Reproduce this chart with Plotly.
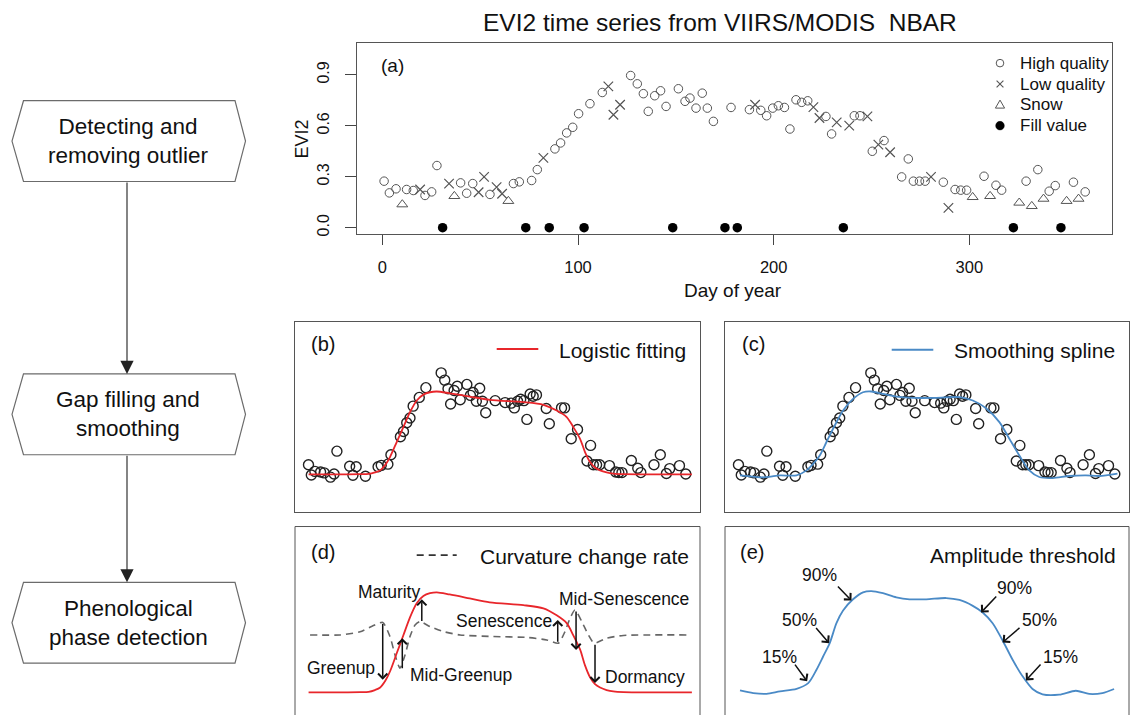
import plotly.graph_objects as go

W, H = 1135, 717
FONT = "Arial, Liberation Sans, Helvetica, sans-serif"

# ---------------- Panel (a): EVI2 observations by quality flag ----------------
HQ_DAY = [0.9, 3.6, 7.0, 12.4, 15.8, 21.8, 25.2, 27.9, 40.0, 43.1, 46.2, 55.0,
          67.0, 70.0, 76.3, 79.2, 88.2, 91.1, 94.2, 97.3, 100.3, 106.1, 112.4,
          126.9, 130.3, 133.4, 135.9, 139.2, 142.2, 145.0, 151.3, 154.7, 157.2,
          160.3, 163.5, 166.1, 169.2, 178.2, 187.6, 193.4, 196.4, 199.5, 202.4,
          205.5, 208.3, 211.4, 214.3, 217.4, 226.7, 229.6, 241.2, 244.1, 250.4,
          256.4, 265.4, 268.8, 271.4, 274.5, 277.4, 286.7, 292.7, 295.6, 298.6,
          307.5, 313.6, 316.5, 329.0, 335.0, 340.8, 343.9, 353.2, 359.2]
HQ_EVI2 = [0.274, 0.205, 0.229, 0.225, 0.219, 0.190, 0.211, 0.366, 0.264, 0.203,
           0.260, 0.196, 0.260, 0.270, 0.278, 0.342, 0.464, 0.499, 0.558, 0.591,
           0.671, 0.730, 0.796, 0.896, 0.847, 0.789, 0.685, 0.777, 0.806, 0.714,
           0.818, 0.744, 0.763, 0.704, 0.792, 0.704, 0.626, 0.708, 0.695, 0.691,
           0.659, 0.704, 0.718, 0.708, 0.581, 0.753, 0.738, 0.747, 0.655, 0.552,
           0.659, 0.659, 0.450, 0.513, 0.299, 0.405, 0.274, 0.274, 0.274, 0.268,
           0.225, 0.221, 0.221, 0.303, 0.250, 0.221, 0.274, 0.342, 0.215, 0.248,
           0.268, 0.211]

LQ_DAY = [19.3, 34.1, 49.2, 52.0, 58.4, 61.2, 82.3, 115.5, 118.1, 121.5, 190.5,
          220.3, 223.4, 232.2, 238.6, 247.9, 253.5, 259.5, 280.4, 289.3]
LQ_EVI2 = [0.225, 0.260, 0.209, 0.299, 0.239, 0.200, 0.411, 0.832, 0.665, 0.724,
           0.724, 0.710, 0.646, 0.620, 0.601, 0.655, 0.489, 0.444, 0.299, 0.117]

SNOW_DAY = [10.2, 36.8, 64.4, 301.7, 310.6, 325.5, 331.9, 337.9, 349.7, 355.8]
SNOW_EVI2 = [0.137, 0.186, 0.157, 0.180, 0.186, 0.147, 0.127, 0.170, 0.157, 0.170]

FILL_DAY = [30.8, 73.3, 85.3, 103.1, 148.4, 175.1, 181.4, 235.6, 322.5, 346.8]
FILL_EVI2 = [0.0, 0.0, 0.0, 0.0, 0.0, 0.0, 0.0, 0.0, 0.0, 0.0]

X_TICKS = [0, 100, 200, 300]
Y_TICKS = [0.0, 0.3, 0.6, 0.9]
Y_TICK_TEXT = ["0.0", "0.3", "0.6", "0.9"]
LEGEND_LABELS = ["High quality", "Low quality", "Snow", "Fill value"]

# ---------------- Fitted curves ----------------
LOGI_DAY = [1, 30, 50, 58, 64, 69, 74, 78.3, 84.7, 91, 97.3, 103.7, 110, 116.3,
            122.7, 135, 154, 173, 205, 224, 236.6, 246.1, 252.4, 258.8, 263.5,
            268.3, 273, 277.8, 284, 290.4, 300, 330, 365]
LOGI_EVI2 = [0.209, 0.209, 0.210, 0.212, 0.222, 0.236, 0.275, 0.326, 0.428, 0.529,
             0.630, 0.709, 0.749, 0.765, 0.770, 0.758, 0.736, 0.714, 0.698, 0.680,
             0.641, 0.597, 0.529, 0.450, 0.360, 0.293, 0.255, 0.236, 0.222, 0.214,
             0.210, 0.209, 0.209]

SPL_DAY = [2.4, 12, 21.4, 30, 40.4, 56.2, 65.7, 72, 78.3, 84.7, 92.6, 100.5, 110,
           119.5, 127.4, 138.5, 151.2, 167, 189.2, 211.3, 224, 236.6, 249.3, 258.8,
           268.3, 277.8, 287.3, 300, 315.8, 331.6, 344.3, 361.7]
SPL_EVI2 = [0.202, 0.195, 0.189, 0.192, 0.202, 0.202, 0.236, 0.280, 0.337, 0.428,
            0.540, 0.641, 0.720, 0.765, 0.770, 0.754, 0.736, 0.727, 0.727, 0.732,
            0.709, 0.657, 0.563, 0.450, 0.337, 0.236, 0.191, 0.184, 0.198, 0.202,
            0.198, 0.214]

# curvature change rate (scaled to the EVI2 axis of panel d)
CCR_DAY = [2.4, 30.9, 49.9, 61.3, 71.4, 78.3, 83.1, 87.8, 92.6, 97.3, 102.1, 106.8,
           116.3, 129, 144.8, 176.4, 208.2, 227.2, 238.2, 244.5, 249.3, 254, 260.4,
           266.7, 272.1, 284.1, 299.9, 360.1]
CCR_VAL = [0.531, 0.531, 0.549, 0.580, 0.601, 0.522, 0.419, 0.345, 0.419, 0.522,
           0.587, 0.606, 0.578, 0.550, 0.531, 0.522, 0.517, 0.503, 0.485, 0.550,
           0.625, 0.671, 0.606, 0.531, 0.485, 0.513, 0.528, 0.531]

# smoothed curve used for amplitude thresholds (panel e)
AMP_DAY = [2.4, 15, 27.7, 40.4, 56.2, 67.3, 75.2, 81.5, 87.8, 94.2, 100.5, 110,
           119.5, 127.4, 138.5, 151.2, 163.8, 179.7, 198.7, 211.3, 224, 233.4, 242.9,
           252.4, 261.9, 271.4, 280.9, 290.4, 306.3, 322.1, 334.8, 347.4, 358.5]
AMP_EVI2 = [0.220, 0.205, 0.201, 0.215, 0.229, 0.261, 0.336, 0.410, 0.485, 0.597,
            0.668, 0.731, 0.770, 0.777, 0.765, 0.742, 0.731, 0.731, 0.738, 0.727,
            0.694, 0.657, 0.597, 0.500, 0.392, 0.299, 0.228, 0.198, 0.196, 0.218,
            0.200, 0.205, 0.228]

# phenological transition markers in panel (d): (label, arrow day, tail, head)
D_ARROWS = [
    ("Greenup", 71.4, 0.601, 0.280),
    ("Mid-Greenup", 90.0, 0.336, 0.513),
    ("Maturity", 108.5, 0.601, 0.731),
    ("Senescence", 237.6, 0.485, 0.615),
    ("Mid-Senescence", 255.0, 0.671, 0.447),
    ("Dormancy", 273.0, 0.485, 0.261),
]
D_LABELS = [
    ("Greenup", 65.8, 0.345, "right"),
    ("Mid-Greenup", 95.4, 0.308, "left"),
    ("Maturity", 108.5, 0.774, "right"),
    ("Senescence", 233.6, 0.610, "right"),
    ("Mid-Senescence", 300.8, 0.733, "center"),
    ("Dormancy", 280.9, 0.293, "left"),
]

# amplitude thresholds in panel (e): (label, text x, text y, tail x, tail y, head x, head y)
E_ARROWS = [
    ("90%", 78.3, 0.867, 94.2, 0.811, 108.5, 0.724),
    ("50%", 59.4, 0.615, 73.6, 0.578, 87.2, 0.485),
    ("15%", 40.4, 0.410, 53.7, 0.373, 66.3, 0.271),
    ("90%", 263.5, 0.793, 247.7, 0.755, 231.9, 0.657),
    ("50%", 287.3, 0.615, 269.9, 0.578, 252.4, 0.489),
    ("15%", 307.9, 0.410, 289.8, 0.373, 274.6, 0.276),
]

FLOW_STEPS = ["Detecting and<br>removing outlier",
              "Gap filling and<br>smoothing",
              "Phenological<br>phase detection"]


def fx(p):
    return p / W


def fy(p):
    return 1 - p / H


RED = "#e8262b"
BLUE = "#4a8ac6"
GREY = "#555555"

fig = go.Figure()

# panel (a)
fig.add_trace(go.Scatter(x=HQ_DAY, y=HQ_EVI2, mode="markers", name="High quality",
                         marker=dict(symbol="circle-open", size=8.5, color=GREY, line=dict(width=1)),
                         xaxis="x", yaxis="y"))
fig.add_trace(go.Scatter(x=LQ_DAY, y=LQ_EVI2, mode="markers", name="Low quality",
                         marker=dict(symbol="x-thin-open", size=9.5, color=GREY, line=dict(width=1.2)),
                         xaxis="x", yaxis="y"))
fig.add_trace(go.Scatter(x=SNOW_DAY, y=SNOW_EVI2, mode="markers", name="Snow",
                         marker=dict(symbol="triangle-up-open", size=9.5, color=GREY, line=dict(width=1)),
                         xaxis="x", yaxis="y"))
fig.add_trace(go.Scatter(x=FILL_DAY, y=FILL_EVI2, mode="markers", name="Fill value",
                         marker=dict(symbol="circle", size=9.5, color="black"),
                         xaxis="x", yaxis="y"))

# panels (b) and (c): high quality points with fitted curves
for xa, ya, cx, cy, col in [("x2", "y2", LOGI_DAY, LOGI_EVI2, RED),
                            ("x3", "y3", SPL_DAY, SPL_EVI2, BLUE)]:
    fig.add_trace(go.Scatter(x=HQ_DAY, y=HQ_EVI2, mode="markers",
                             marker=dict(symbol="circle-open", size=10, color="#222",
                                         line=dict(width=1.4)),
                             xaxis=xa, yaxis=ya))
    fig.add_trace(go.Scatter(x=cx, y=cy, mode="lines",
                             line=dict(color=col, width=1.8, shape="spline", smoothing=0.8),
                             xaxis=xa, yaxis=ya))

# panel (d)
fig.add_trace(go.Scatter(x=CCR_DAY, y=CCR_VAL, mode="lines",
                         line=dict(color="#666", width=1.6, dash="7px,5px", shape="spline", smoothing=0.6),
                         xaxis="x4", yaxis="y4"))
fig.add_trace(go.Scatter(x=LOGI_DAY, y=LOGI_EVI2, mode="lines",
                         line=dict(color=RED, width=1.8, shape="spline", smoothing=0.8),
                         xaxis="x4", yaxis="y4"))

# panel (e)
fig.add_trace(go.Scatter(x=AMP_DAY, y=AMP_EVI2, mode="lines",
                         line=dict(color=BLUE, width=1.8, shape="spline", smoothing=0.8),
                         xaxis="x5", yaxis="y5"))

box = dict(showline=True, mirror=True, linecolor="#555", linewidth=1)
hidden = dict(showgrid=False, zeroline=False, showticklabels=False, ticks="")
X_RANGE = [-11.9, 372.7]

layout = dict(
    width=W, height=H,
    margin=dict(l=0, r=0, t=0, b=0),
    paper_bgcolor="white", plot_bgcolor="white",
    font=dict(family=FONT, color="#111"),
    showlegend=False,
    xaxis=dict(domain=[fx(357), fx(1112)], range=[-12.95, 372.9], anchor="y",
               tickvals=X_TICKS, ticks="outside", ticklen=10, tickwidth=1, tickcolor="#444",
               tickfont=dict(size=16.5, color="#111"), ticklabelstandoff=8,
               showgrid=False, zeroline=False, **box),
    yaxis=dict(domain=[fy(235), fy(43)], range=[-0.039, 1.088], anchor="x",
               tickvals=Y_TICKS, ticktext=Y_TICK_TEXT, tickangle=-90,
               ticks="outside", ticklen=11, tickwidth=1, tickcolor="#444",
               tickfont=dict(size=16, color="#111"), ticklabelstandoff=10,
               showgrid=False, zeroline=False, **box),
    xaxis2=dict(domain=[fx(295), fx(700)], range=X_RANGE, anchor="y2", **hidden, **box),
    yaxis2=dict(domain=[fy(513), fy(323)], range=[-0.043, 1.240], anchor="x2", **hidden, **box),
    xaxis3=dict(domain=[fx(725), fx(1129)], range=X_RANGE, anchor="y3", **hidden, **box),
    yaxis3=dict(domain=[fy(513), fy(323)], range=[-0.043, 1.240], anchor="x3", **hidden, **box),
    xaxis4=dict(domain=[fx(295), fx(700)], range=X_RANGE, anchor="y4", **hidden),
    yaxis4=dict(domain=[0, fy(528)], range=[0.082, 1.139], anchor="x4", **hidden),
    xaxis5=dict(domain=[fx(725), fx(1129)], range=X_RANGE, anchor="y5", **hidden),
    yaxis5=dict(domain=[0, fy(528)], range=[0.082, 1.139], anchor="x5", **hidden),
)
fig.update_layout(**layout)

shapes = []
# open-bottom frames of panels (d) and (e)
for n in ("4", "5"):
    for x0, y0, x1, y1 in [(0, 0, 0, 1), (0, 1, 1, 1), (1, 1, 1, 0)]:
        shapes.append(dict(type="line", xref=f"x{n} domain", yref=f"y{n} domain",
                           x0=x0, y0=y0, x1=x1, y1=y1, line=dict(color="#555", width=1)))

# legend keys of panels (b), (c), (d)
shapes.append(dict(type="line", xref="paper", yref="paper", x0=fx(496.7), x1=fx(538.3),
                   y0=fy(350), y1=fy(350), line=dict(color=RED, width=1.8)))
shapes.append(dict(type="line", xref="paper", yref="paper", x0=fx(891.7), x1=fx(933.3),
                   y0=fy(350.7), y1=fy(350.7), line=dict(color=BLUE, width=2)))
shapes.append(dict(type="line", xref="paper", yref="paper", x0=fx(416.7), x1=fx(456.7),
                   y0=fy(556.7), y1=fy(556.7), line=dict(color="#333", width=1.6, dash="7px,5px")))

# legend keys of panel (a)
KX = 1000
ROWS = [63.3, 84.3, 105.0, 126.0]
r = 3.8
shapes.append(dict(type="circle", xref="paper", yref="paper",
                   x0=fx(KX - r), x1=fx(KX + r), y0=fy(ROWS[0] + r), y1=fy(ROWS[0] - r),
                   line=dict(color=GREY, width=1)))
c = 3.4
for sx in (-1, 1):
    shapes.append(dict(type="line", xref="paper", yref="paper",
                       x0=fx(KX - c), x1=fx(KX + c), y0=fy(ROWS[1] - sx * c), y1=fy(ROWS[1] + sx * c),
                       line=dict(color=GREY, width=1.1)))
tri = [(KX, ROWS[2] - 4.6), (KX + 4.6, ROWS[2] + 3.4), (KX - 4.6, ROWS[2] + 3.4)]
shapes.append(dict(type="path", xref="paper", yref="paper",
                   path="M " + " L ".join(f"{fx(a):.5f},{fy(b):.5f}" for a, b in tri) + " Z",
                   line=dict(color=GREY, width=1)))
r2 = 4.3
shapes.append(dict(type="circle", xref="paper", yref="paper",
                   x0=fx(KX - r2), x1=fx(KX + r2), y0=fy(ROWS[3] + r2), y1=fy(ROWS[3] - r2),
                   line=dict(color="black", width=0.5), fillcolor="black"))

# flowchart boxes (hexagons)
BOX_Y = [(101, 182), (375, 456), (584, 665)]
XL, XL2, XR2, XR = 12, 23.5, 235, 245.5
for top, bot in BOX_Y:
    mid = (top + bot) / 2
    pts = [(XL, mid), (XL2, top), (XR2, top), (XR, mid), (XR2, bot), (XL2, bot)]
    path = "M " + " L ".join(f"{fx(a):.5f},{fy(b):.5f}" for a, b in pts) + " Z"
    shapes.append(dict(type="path", xref="paper", yref="paper", path=path,
                       line=dict(color="#6b6b6b", width=1.2), fillcolor="white"))

fig.update_layout(shapes=shapes)

ann = []


def text(x, y, s, size, xanchor="center", yanchor="middle", xref="paper", yref="paper", **kw):
    ann.append(dict(x=x, y=y, xref=xref, yref=yref, text=s, showarrow=False,
                    xanchor=xanchor, yanchor=yanchor,
                    font=dict(size=size, color="#111", family=FONT), **kw))


# title and axis titles of panel (a)
text(fx(719.5), fy(23), "EVI2 time series from VIIRS/MODIS\u00a0 NBAR", 24.5)
text(fx(733), fy(291), "Day of year", 19)
text(fx(302), fy(140), "EVI2", 18, textangle=-90)

# legend of panel (a)
for label, yy in zip(LEGEND_LABELS, ROWS):
    text(fx(1018), fy(yy), label, 17, xanchor="left")

# panel tags
text(fx(392), fy(65.5), "(a)", 19)
text(fx(323.3), fy(345), "(b)", 20)
text(fx(753.3), fy(345), "(c)", 20)
text(fx(323.3), fy(553.3), "(d)", 20)
text(fx(751.7), fy(553.3), "(e)", 20)

# panel legends
text(fx(556.7), fy(351), "Logistic fitting", 21, xanchor="left")
text(fx(951.7), fy(351.7), "Smoothing spline", 21, xanchor="left")
text(fx(478.3), fy(558), "Curvature change rate", 21, xanchor="left")
text(fx(1118.3), fy(556.7), "Amplitude threshold", 21, xanchor="right")

# panel (d) transition labels and arrows
for label, x, y, anchor in D_LABELS:
    text(x, y, label, 17.5, xanchor=anchor, xref="x4", yref="y4")
for label, x, tail, head in D_ARROWS:
    ann.append(dict(x=x, y=head, ax=x, ay=tail, xref="x4", yref="y4", axref="x4", ayref="y4",
                    text="", showarrow=True, arrowhead=4, arrowsize=1.2, arrowwidth=1.5,
                    arrowcolor="#111", standoff=0, startstandoff=0))

# panel (e) threshold labels and arrows
for label, tx, ty, ax_, ay_, hx, hy in E_ARROWS:
    text(tx, ty, label, 17.5, xref="x5", yref="y5")
    ann.append(dict(x=hx, y=hy, ax=ax_, ay=ay_, xref="x5", yref="y5", axref="x5", ayref="y5",
                    text="", showarrow=True, arrowhead=4, arrowsize=1.2, arrowwidth=1.5,
                    arrowcolor="#111", standoff=0, startstandoff=0))

# flowchart text and connecting arrows
for (top, bot), s in zip(BOX_Y, FLOW_STEPS):
    text(fx(128), fy((top + bot) / 2), s, 22.5)
for (t0, b0), (t1, b1) in zip(BOX_Y[:-1], BOX_Y[1:]):
    ann.append(dict(x=fx(127), y=fy(t1), xref="paper", yref="paper", ax=0, ay=-(t1 - b0),
                    text="", showarrow=True, arrowhead=2, arrowsize=2.4, arrowwidth=1.1,
                    arrowcolor="#222", standoff=0))

fig.update_layout(annotations=ann)

fig.write_html("out.html")
